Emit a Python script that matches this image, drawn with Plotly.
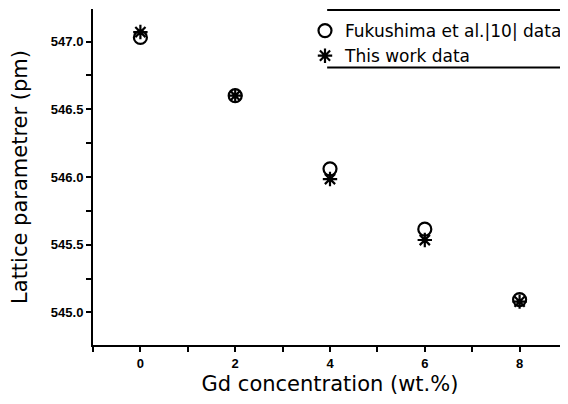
import plotly.graph_objects as go

gd = [0, 2, 4, 6, 8]
fukushima = [547.03, 546.60, 546.06, 545.615, 545.095]
this_work = [547.07, 546.60, 545.985, 545.535, 545.08]
x_ticks = [0, 2, 4, 6, 8]
y_ticks = [545.0, 545.5, 546.0, 546.5, 547.0]
y_tick_labels = ["545.0", "545.5", "546.0", "546.5", "547.0"]

fig = go.Figure()
fig.add_trace(go.Scatter(
    x=gd, y=fukushima, mode="markers", name="Fukushima et al.|10| data",
    marker=dict(symbol="circle-open", size=13, color="black", line=dict(width=2.2, color="black")),
))
fig.add_trace(go.Scatter(
    x=gd, y=this_work, mode="markers", name="This work data",
    marker=dict(symbol="asterisk-open", size=12, color="black", line=dict(width=2.2, color="black")),
))

# page body has an 8px margin: figure sized so the page does not overflow
fig.update_layout(
    template="none",
    width=560, height=388, autosize=False,
    margin=dict(l=85, r=1, t=1, b=51, pad=0),
    paper_bgcolor="white", plot_bgcolor="white",
    font=dict(family="Liberation Sans, Arial, sans-serif", color="black"),
    showlegend=True,
    legend=dict(
        x=1.0, y=0.988, xanchor="right", yanchor="top",
        bgcolor="rgba(0,0,0,0)", borderwidth=0,
        font=dict(family="DejaVu Sans, sans-serif", size=17, color="black"),
        tracegroupgap=0, itemwidth=30,
    ),
    shapes=[
        dict(type="line", xref="paper", yref="paper", x0=0.494, x1=1.01, y0=0.997, y1=0.997,
             line=dict(color="black", width=2)),
        dict(type="line", xref="paper", yref="paper", x0=0.494, x1=1.01, y0=0.826, y1=0.826,
             line=dict(color="black", width=2)),
    ],
)

fig.update_xaxes(
    range=[-1, 9], showgrid=False, zeroline=False, automargin=False,
    showline=True, linecolor="black", linewidth=2,
    tickmode="array", tickvals=x_ticks, ticktext=[str(v) for v in x_ticks],
    ticks="outside", ticklen=5, tickwidth=2, tickcolor="black",
    tickfont=dict(family="Liberation Sans, Arial, sans-serif", size=13, weight="bold"),
    minor=dict(dtick=1, tick0=0, ticks="outside", ticklen=5, tickwidth=2, tickcolor="black"),
    title=dict(text="Gd concentration (wt.%)", standoff=13,
               font=dict(family="DejaVu Sans, sans-serif", size=21)),
)
fig.update_yaxes(
    range=[544.76, 547.24], showgrid=False, zeroline=False, automargin=False,
    showline=True, linecolor="black", linewidth=2,
    tickmode="array", tickvals=y_ticks, ticktext=y_tick_labels,
    ticks="outside", ticklen=5, tickwidth=2, tickcolor="black",
    tickfont=dict(family="Liberation Sans, Arial, sans-serif", size=13, weight="bold"),
    minor=dict(dtick=0.25, tick0=545.0, ticks="outside", ticklen=5, tickwidth=2, tickcolor="black"),
    title=dict(text="Lattice parametrer (pm)", standoff=19,
               font=dict(family="DejaVu Sans, sans-serif", size=21)),
)

fig.write_html("out.html")
